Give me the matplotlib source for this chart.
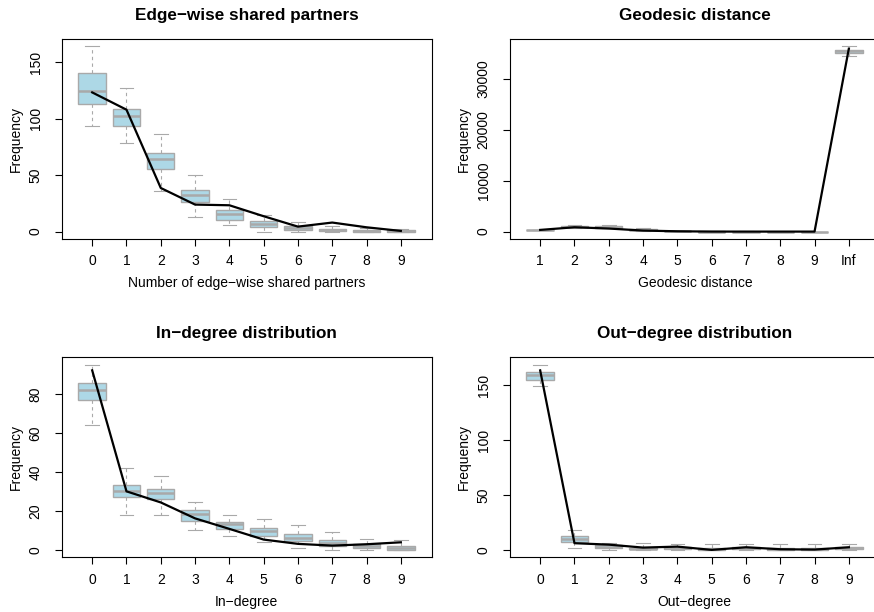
import matplotlib
matplotlib.use('Agg')
import matplotlib.pyplot as plt

plt.rcParams['font.family'] = ['Liberation Sans', 'DejaVu Sans']

# ---------------- data ----------------
esp_labels = ['0', '1', '2', '3', '4', '5', '6', '7', '8', '9']
esp_whislo = [93.7, 78.7, 36.0, 12.7, 5.6, 0.0, 0.0, 0.0, 0.0, 0.0]
esp_q1 = [112.6, 93.4, 55.4, 25.9, 10.3, 4.4, 1.5, 0.3, 0.0, 0.0]
esp_med = [124.0, 102.0, 64.0, 32.1, 15.6, 7.1, 2.9, 1.2, 0.6, 0.3]
esp_q3 = [140.3, 108.2, 69.6, 36.8, 19.5, 9.4, 4.7, 2.7, 1.5, 1.0]
esp_whishi = [163.9, 126.7, 86.6, 49.8, 28.6, 14.7, 8.5, 5.3, 3.0, 2.0]
esp_obs = [123.2, 107.9, 38.6, 23.9, 23.3, 13.6, 4.4, 8.0, 3.8, 0.6]

dist_labels = ['1', '2', '3', '4', '5', '6', '7', '8', '9', 'Inf']
dist_whislo = [280, 700, 650, 200, 20, 0, 0, 0, 0, 34450]
dist_q1 = [300, 850, 800, 300, 50, 0, 0, 0, 0, 34960]
dist_med = [326, 950, 950, 400, 80, 10, 0, 0, 0, 35350]
dist_q3 = [350, 1100, 1150, 500, 120, 30, 10, 5, 2, 35680]
dist_whishi = [380, 1250, 1300, 650, 200, 60, 30, 15, 10, 36330]
dist_obs = [330, 850, 600, 200, 60, 5, 0, 0, 0, 35880]

ideg_labels = ['0', '1', '2', '3', '4', '5', '6', '7', '8', '9']
ideg_whislo = [64.1, 18.1, 18.1, 10.1, 7.0, 4.1, 1.0, 0.0, 0.0, 0.0]
ideg_q1 = [77.1, 27.2, 26.0, 15.0, 10.9, 7.2, 4.6, 2.2, 0.9, 0.0]
ideg_med = [82.0, 30.1, 29.1, 18.3, 13.2, 9.6, 6.3, 3.8, 2.2, 1.0]
ideg_q3 = [86.0, 33.2, 31.5, 20.3, 14.2, 11.1, 8.0, 5.1, 2.9, 1.9]
ideg_whishi = [95.2, 41.9, 38.1, 24.8, 17.9, 15.9, 13.0, 9.1, 5.8, 5.0]
ideg_obs = [92.3, 30.1, 24.4, 16.2, 10.8, 5.3, 3.1, 2.2, 2.9, 3.9]

odeg_labels = ['0', '1', '2', '3', '4', '5', '6', '7', '8', '9']
odeg_whislo = [149.4, 2.1, 0.0, 0.0, 0.0, 0.0, 0.0, 0.0, 0.0, 0.0]
odeg_q1 = [154.8, 7.0, 1.5, 0.5, 0.5, 0.0, 0.5, 0.0, 0.0, 0.5]
odeg_med = [159.0, 9.7, 3.0, 1.2, 1.5, 0.8, 1.5, 1.0, 1.0, 1.5]
odeg_q3 = [162.1, 12.4, 4.5, 2.0, 2.5, 2.0, 2.5, 2.0, 2.0, 2.5]
odeg_whishi = [168.8, 17.9, 6.0, 6.0, 5.0, 5.0, 5.0, 5.0, 5.0, 5.0]
odeg_obs = [163.6, 6.1, 4.8, 2.1, 3.0, 0.0, 2.4, 0.6, 0.3, 2.4]

panels = [
    dict(title='Edge\u2212wise shared partners', xlabel='Number of edge\u2212wise shared partners',
         labels=esp_labels, lo=esp_whislo, q1=esp_q1, med=esp_med, q3=esp_q3, hi=esp_whishi,
         obs=esp_obs, yticks=[0, 50, 100, 150]),
    dict(title='Geodesic distance', xlabel='Geodesic distance',
         labels=dist_labels, lo=dist_whislo, q1=dist_q1, med=dist_med, q3=dist_q3, hi=dist_whishi,
         obs=dist_obs, yticks=[0, 10000, 20000, 30000]),
    dict(title='In\u2212degree distribution', xlabel='In\u2212degree',
         labels=ideg_labels, lo=ideg_whislo, q1=ideg_q1, med=ideg_med, q3=ideg_q3, hi=ideg_whishi,
         obs=ideg_obs, yticks=[0, 20, 40, 60, 80]),
    dict(title='Out\u2212degree distribution', xlabel='Out\u2212degree',
         labels=odeg_labels, lo=odeg_whislo, q1=odeg_q1, med=odeg_med, q3=odeg_q3, hi=odeg_whishi,
         obs=odeg_obs, yticks=[0, 50, 100, 150]),
]

W, H = 874, 612
fig = plt.figure(figsize=(W / 100, H / 100), dpi=100)

# axes rectangles in pixels: left, top, width, height
rects = [(62, 39, 369.7, 200), (510, 39, 369.7, 200),
         (62, 357.3, 369.7, 200), (510, 357.3, 369.7, 200)]

box_edge = '#a9a9a9'
box_fill = '#add8e6'

for p, (lx, ty, w, h) in zip(panels, rects):
    ax = fig.add_axes([lx / W, 1 - (ty + h) / H, w / W, h / H])
    n = len(p['labels'])
    pos = list(range(n))
    stats = []
    for i in range(n):
        stats.append(dict(whislo=p['lo'][i], q1=p['q1'][i], med=p['med'][i],
                          q3=p['q3'][i], whishi=p['hi'][i], fliers=[]))
    ax.bxp(stats, positions=pos, widths=0.8, patch_artist=True, showfliers=False,
           boxprops=dict(facecolor=box_fill, edgecolor=box_edge, linewidth=1.0),
           whiskerprops=dict(color=box_edge, linewidth=0.8, linestyle=(0, (3, 3))),
           capprops=dict(color=box_edge, linewidth=0.8),
           medianprops=dict(color=box_edge, linewidth=1.8),
           capwidths=0.4)
    ax.plot(pos, p['obs'], color='black', linewidth=1.6, zorder=5)

    allv = p['lo'] + p['hi'] + p['obs']
    lo, hi = min(allv), max(allv)
    pad = 0.04 * (hi - lo)
    ax.set_ylim(lo - pad, hi + pad)
    ax.set_xlim(-0.88, 9.9)

    ax.set_xticks(pos)
    ax.set_xticklabels(p['labels'])
    ax.set_yticks(p['yticks'])
    ax.set_yticklabels([str(v) for v in p['yticks']], rotation=90, va='center')

    ax.tick_params(axis='both', direction='out', length=5, width=0.8, labelsize=10,
                   colors='black')
    ax.tick_params(axis='x', pad=6)
    ax.tick_params(axis='y', pad=9)
    for s in ax.spines.values():
        s.set_linewidth(0.8)
        s.set_color('black')

    ax.set_title(p['title'], fontsize=12.3, fontweight='bold', pad=14)
    ax.set_xlabel(p['xlabel'], fontsize=10, va='center')
    ax.xaxis.set_label_coords(0.5, -44.4 / h)
    ax.set_ylabel('Frequency', fontsize=10, va='center')
    ax.yaxis.set_label_coords(-(lx - 16) / w if lx < 100 else -(lx - 464) / w, 0.5)

fig.savefig('out.png', dpi=100)
